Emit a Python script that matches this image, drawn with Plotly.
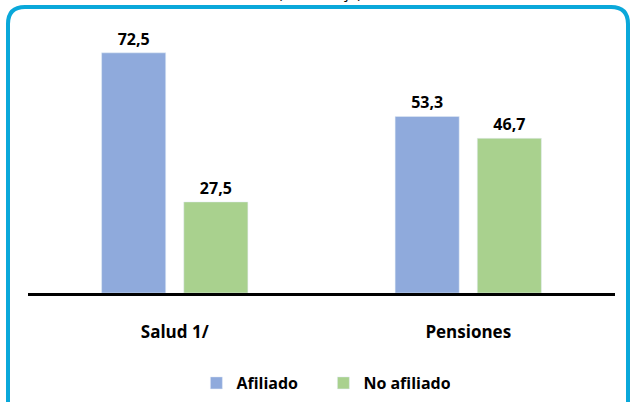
import plotly.graph_objects as go

categories = ["Salud 1/", "Pensiones"]
afiliado = [72.5, 53.3]
no_afiliado = [27.5, 46.7]
series_names = ["Afiliado", "No afiliado"]

W, H = 631, 402
ml, mr, mt, mb = 28, 16, 28, 109
pw = W - ml - mr
ph = H - mt - mb

def px_to_paper_x(x):
    return (x - ml) / pw

def px_to_paper_y(y):
    return (H - mb - y) / ph

font_family = "'Open Sans', sans-serif"

fig = go.Figure()
for name, vals, color in [(series_names[0], afiliado, "#8FAADC"),
                          (series_names[1], no_afiliado, "#A9D18E")]:
    fig.add_trace(go.Bar(name=name, x=categories, y=vals,
                         marker_color=color,
                         texttemplate="<b>%{y:.1f}</b>",
                         textposition="outside",
                         textfont=dict(size=16, color="black", family=font_family),
                         cliponaxis=False))

# rounded border
x0, x1 = px_to_paper_x(8), px_to_paper_x(628)
y0, y1 = px_to_paper_y(440), px_to_paper_y(7)
rx, ry = 17 / pw, 17 / ph
path = (f"M {x0+rx} {y1} L {x1-rx} {y1} Q {x1} {y1} {x1} {y1-ry} "
        f"L {x1} {y0} L {x0} {y0} L {x0} {y1-ry} Q {x0} {y1} {x0+rx} {y1} Z")
fig.add_shape(type="path", path=path, xref="paper", yref="paper",
              line=dict(color="#0AA8DA", width=4), layer="below")

fig.add_annotation(text="(Porcentaje)", x=px_to_paper_x(320), y=px_to_paper_y(4),
                   xref="paper", yref="paper",
                   xanchor="center", yanchor="bottom", showarrow=False,
                   font=dict(size=15, color="black", family=font_family))

fig.update_layout(
    width=W, height=H,
    margin=dict(l=ml, r=mr, t=mt, b=mb, autoexpand=False),
    plot_bgcolor="white", paper_bgcolor="white",
    barmode="group", bargap=0.44, bargroupgap=0.22,
    separators=",.",
    font=dict(family=font_family, color="black"),
    showlegend=True,
    legend=dict(orientation="h", x=px_to_paper_x(214) - 0.03, xanchor="left",
                y=px_to_paper_y(383), yanchor="middle",
                font=dict(size=16, color="black", family=font_family, weight="bold"),
                entrywidth=82, traceorder="normal"),
    xaxis=dict(showline=True, linecolor="black", linewidth=2.5, ticks="", automargin=False,
               ticklabelstandoff=22,
               tickfont=dict(size=17, color="black", family=font_family, weight="bold")),
    yaxis=dict(range=[0, 80], visible=False, showgrid=False, automargin=False),
)

fig.write_html("out.html", config={"displayModeBar": False},
               post_script="document.body.style.margin='0';")
